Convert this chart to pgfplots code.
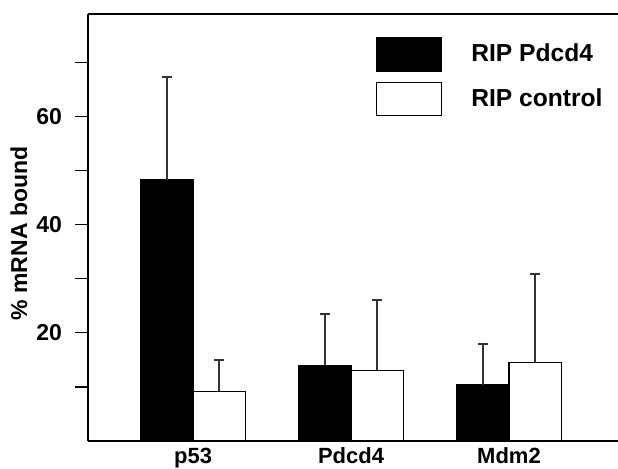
\documentclass[border=0pt]{standalone}
\usepackage{fontspec}
\setmainfont{Liberation Sans}
\usepackage{pgfplots}
\pgfplotsset{compat=1.18}
\begin{document}
\begin{tikzpicture}
\useasboundingbox (-44pt,-14pt) rectangle (265pt,220.5pt);
\begin{axis}[
 scale only axis, width=265pt, height=213.5pt,
 xmin=-0.665, xmax=2.69, ymin=0, ymax=79,
 axis x line*=bottom, axis y line*=left,
 axis line style={line width=0.6pt, -},
 ybar=0pt, bar width=0.332,
 xtick={0,1,2}, xticklabels={p53,Pdcd4,Mdm2},
 x tick style={draw=none},
 xticklabel style={font=\bfseries\fontsize{11}{12}\selectfont, yshift=6.5pt},
 ytick={20,40,60}, minor ytick={10,30,50,70},
 tick align=outside, major tick length=6.5pt, minor tick length=6.5pt,
 y tick style={line width=0.6pt, black},
 yticklabel style={font=\bfseries\fontsize{11.5}{12}\selectfont, xshift=-3pt},
 /pgf/number format/assume math mode=true,
 ylabel={\% mRNA bound},
 every axis y label/.style={at={(rel axis cs:0,0.486)}, rotate=90, anchor=center, yshift=34.5pt,
   font=\bfseries\fontsize{11.5}{12}\selectfont},
 legend image code/.code={\draw[#1, line width=0.6pt] (0pt,-8.25pt) rectangle (32.5pt,8.25pt);},
 legend style={draw=none, fill=none, at={(rel axis cs:0.543,0.946)}, anchor=north west,
   inner sep=0pt, row sep=5pt, font=\bfseries\fontsize{12.3}{13}\selectfont,
   nodes={inner sep=0pt}, /tikz/every odd column/.style={column sep=14.5pt}},
 legend cell align=left,
]
\addplot[fill=black, draw=black, line width=0.6pt,
  error bars/.cd, y dir=plus, y explicit,
  error bar style={line width=0.9pt, black!80},
  error mark options={rotate=90, mark size=2.5pt, line width=0.9pt, black!80}]
  coordinates {(0,48.3) +- (0,19.0) (1,14.0) +- (0,9.5) (2,10.4) +- (0,7.5)};
\addplot[fill=white, draw=black, line width=0.6pt,
  error bars/.cd, y dir=plus, y explicit,
  error bar style={line width=0.9pt, black!80},
  error mark options={rotate=90, mark size=2.5pt, line width=0.9pt, black!80}]
  coordinates {(0,9.2) +- (0,5.8) (1,13.1) +- (0,13.0) (2,14.5) +- (0,16.4)};
\legend{RIP Pdcd4, RIP control}
\draw[line width=0.6pt] (rel axis cs:0,1) -- (rel axis cs:1,1);
\end{axis}
\end{tikzpicture}
\end{document}
